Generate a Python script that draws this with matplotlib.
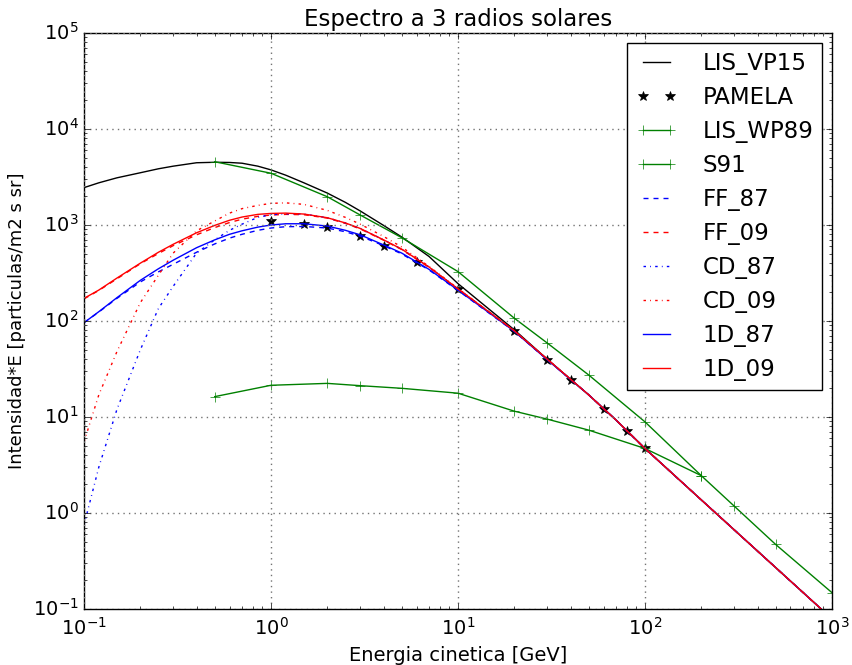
import matplotlib
matplotlib.use("Agg")
import matplotlib.pyplot as plt

plt.style.use('classic')
plt.rcParams['mathtext.fontset'] = 'dejavusans'
plt.rcParams['font.family'] = ['DejaVu Sans']

# ---------------- data ----------------
E_model = [0.1, 0.12, 0.15, 0.2, 0.25, 0.3, 0.4, 0.5, 0.6, 0.7, 0.85, 1, 1.2, 1.5,
           2, 2.5, 3, 4, 5, 7, 10, 15, 20, 30, 50, 70, 100, 200, 500, 1000]

lis_vp15 = [2450, 2750, 3100, 3500, 3850, 4100, 4450, 4500, 4480, 4400, 4100, 3750, 3300, 2750,
            2150, 1720, 1400, 990, 750, 470, 245, 128, 81, 40, 17, 9.3, 4.7, 1.37, 0.27, 0.079]

oned_09 = [172, 210, 280, 400, 520, 630, 830, 990, 1120, 1210, 1290, 1320, 1330, 1300,
           1190, 1050, 920, 700, 560, 365, 216, 120, 79, 40, 17, 9.3, 4.7, 1.37, 0.27, 0.079]

oned_87 = [96, 125, 175, 265, 350, 430, 580, 700, 800, 870, 950, 1000, 1030, 1030,
           975, 880, 790, 620, 510, 345, 210, 118, 78, 39.5, 17, 9.3, 4.7, 1.37, 0.27, 0.079]

ff_87 = [96, 124, 172, 255, 325, 390, 520, 635, 730, 800, 880, 930, 960, 965,
         930, 850, 765, 610, 500, 340, 208, 117, 78, 39.5, 17, 9.3, 4.7, 1.37, 0.27, 0.079]

ff_09 = [170, 208, 275, 395, 505, 610, 790, 940, 1060, 1150, 1230, 1270, 1290, 1280,
         1180, 1040, 910, 695, 555, 362, 215, 120, 79, 40, 17, 9.3, 4.7, 1.37, 0.27, 0.079]

cd_87 = [0.75, 3.0, 12, 50, 135, 230, 510, 700, 880, 1020, 1200, 1280, 1310, 1300,
         1190, 1050, 920, 700, 560, 365, 216, 120, 79, 40, 17, 9.3, 4.7, 1.37, 0.27, 0.079]

cd_09 = [5.5, 17, 48, 155, 300, 510, 870, 1100, 1330, 1480, 1600, 1680, 1700, 1640,
         1420, 1200, 1020, 760, 590, 370, 218, 120, 79, 40, 17, 9.3, 4.7, 1.37, 0.27, 0.079]

E_pamela = [1, 1.5, 2, 3, 4, 6, 10, 20, 30, 40, 60, 80, 100]
pamela = [1100, 1020, 960, 770, 600, 410, 215, 78, 39.5, 24, 12, 7.2, 4.7]

E_wp89 = [0.5, 1, 2, 3, 5, 10, 20, 30, 50, 100, 200, 300, 500, 1000]
lis_wp89 = [4560, 3460, 1970, 1270, 738, 327, 107, 59, 27.4, 8.9, 2.45, 1.18, 0.47, 0.148]

E_s91 = [0.5, 1, 2, 3, 5, 10, 20, 30, 50, 100, 200]
s91 = [16.3, 21.4, 22.4, 21.2, 19.9, 17.7, 11.5, 9.5, 7.3, 4.7, 2.45]

# ---------------- plot ----------------
fig = plt.figure(figsize=(8.52, 6.65), dpi=100, facecolor='white')
ax = fig.add_axes([0.0986, 0.0842, 0.8779, 0.8662])

DASH = (3.6, 3.6)
DASHDOT = (1.8, 3.0, 0.6, 3.0)

ax.loglog(E_model, lis_vp15, 'k-', label='LIS_VP15')
ax.loglog(E_pamela, pamela, 'k*', markersize=7, label='PAMELA')
ax.loglog(E_wp89, lis_wp89, 'g-+', markersize=7, markeredgecolor='g', label='LIS_WP89')
ax.loglog(E_s91, s91, 'g-+', markersize=7, markeredgecolor='g', label='S91')
ax.loglog(E_model, ff_87, color='b', dashes=DASH, label='FF_87')
ax.loglog(E_model, ff_09, color='r', dashes=DASH, label='FF_09')
ax.loglog(E_model, cd_87, color='b', dashes=DASHDOT, label='CD_87')
ax.loglog(E_model, cd_09, color='r', dashes=DASHDOT, label='CD_09')
ax.loglog(E_model, oned_87, 'b-', label='1D_87')
ax.loglog(E_model, oned_09, 'r-', label='1D_09')

ax.set_xlim(0.1, 1000)
ax.set_ylim(0.1, 1e5)
ax.grid(True, which='major', color='0.45', linestyle=':', linewidth=1)
ax.tick_params(labelsize=14)
ax.tick_params(axis='x', pad=6)

ax.set_title('Espectro a 3 radios solares', fontsize=16.5)
ax.set_xlabel('Energia cinetica [GeV]', fontsize=14)
ax.set_ylabel('Intensidad*E [particulas/m2 s sr]', fontsize=13)

leg = ax.legend(loc='upper right', fontsize=16.5, numpoints=2, labelspacing=0.48,
                handlelength=1.8, handletextpad=1.1, borderaxespad=0.42)

fig.savefig('out.png', dpi=100, facecolor='white')
